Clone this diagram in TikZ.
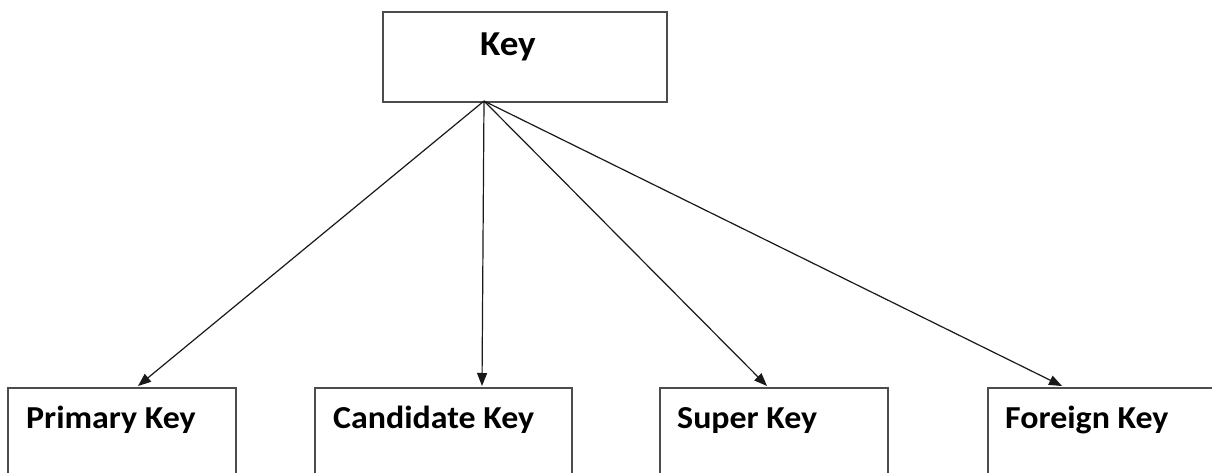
\documentclass[tikz,border=0pt]{standalone}
\usepackage{fontspec}
\setmainfont{Carlito}[FakeStretch=1.06]
\usetikzlibrary{arrows.meta}
\tikzset{
  box/.style={draw=black!70, line width=2pt, fill=white, inner sep=0pt, anchor=north west},
  lbl/.style={anchor=base west, inner sep=0pt, font=\bfseries\fontsize{32}{36}\selectfont},
  conn/.style={draw=black!90, line width=1.2pt, -{Triangle[length=13pt,width=10pt]}}
}
\begin{document}
\begin{tikzpicture}[x=1pt,y=-1pt]
\clip (0,0) rectangle (1212,472);
\fill[white] (0,0) rectangle (1212,472);
% top box
\node[box, minimum width=284pt, minimum height=90pt] (key) at (382,11) {};
\node[anchor=base west, inner sep=0pt, font=\bfseries\fontsize{35}{40}\selectfont] (keyt) at (480,55) {Key};
% bottom boxes
\node[box, minimum width=228pt, minimum height=120pt] (pk) at (7,387) {};
\node[box, minimum width=257pt, minimum height=120pt] (ck) at (314,387) {};
\node[box, minimum width=228pt, minimum height=120pt] (sk) at (659,387) {};
\node[box, minimum width=260pt, minimum height=120pt] (fk) at (987,387) {};
\node[lbl] (pkt) at (26,428) {Primary Key};
\node[lbl] (ckt) at (333,428) {Candidate Key};
\node[lbl] (skt) at (677,428) {Super Key};
\node[lbl] (fkt) at (1005,428) {Foreign Key};
% connector points
\coordinate (src) at (484,101);
\coordinate (pkin) at (138,386);
\coordinate (ckin) at (482,386);
\coordinate (skin) at (767,386);
\coordinate (fkin) at (1062,386);
\draw[conn] (src) -- (pkin);
\draw[conn] (src) -- (ckin);
\draw[conn] (src) -- (skin);
\draw[conn] (src) -- (fkin);
\end{tikzpicture}
\end{document}
